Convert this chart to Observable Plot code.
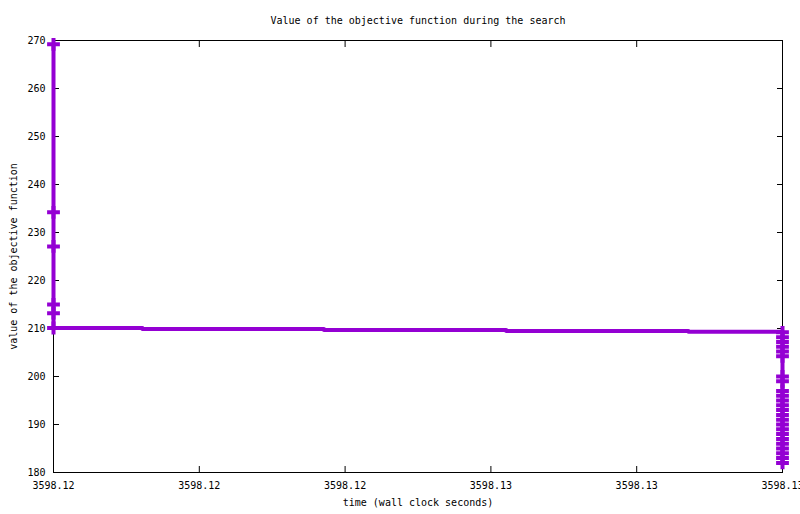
<!DOCTYPE html>
<html>
<head>
<meta charset="utf-8">
<script src="https://cdn.jsdelivr.net/npm/d3@7"></script>
<script src="https://cdn.jsdelivr.net/npm/@observablehq/plot@0.6"></script>
<style>
  html, body { margin: 0; padding: 0; background: #fff; }
  #chart svg { display: block; }
</style>
</head>
<body>
<div id="chart"></div>
<script>
// ---- data ----
const startTime = 3598.119;
const endTime = 3598.129;
// initial descent at the first instant
const spikeValues = [269.2, 234.2, 227.1, 215.0, 213.2, 210.1];
// plateau steps (time, value)
const stepTimes = [3598.12022, 3598.12271, 3598.12521, 3598.12771];
const stepValues = [209.9, 209.7, 209.5, 209.3];
// final descent at the last instant
const endValues = [209.2, 208.2, 207.2, 206.2, 205.2, 204.2, 200.0, 199.0,
  197, 196, 195, 194, 193, 192, 191, 190, 189, 188, 187, 186, 185, 184, 183, 182];

const xTicks = [3598.119, 3598.121, 3598.123, 3598.125, 3598.127, 3598.129];
const xTickLabels = ["3598.12", "3598.12", "3598.12", "3598.13", "3598.13", "3598.13"];
const yTicks = [180, 190, 200, 210, 220, 230, 240, 250, 260, 270];

const titleText = "Value of the objective function during the search";
const xLabel = "time (wall clock seconds)";
const yLabel = "value of the objective function";

// ---- build series ----
const spikePts = spikeValues.map(v => ({t: startTime, v}));
const stepPts = stepTimes.map((t, i) => ({t, v: stepValues[i]}));
const endPts = endValues.map(v => ({t: endTime, v}));
const series = [...spikePts, ...stepPts, ...endPts];
const markers = [...spikePts, ...endPts];

const color = "#9400d3";
const fmtX = (d) => xTickLabels[xTicks.indexOf(d)] ?? "";

const chart = Plot.plot({
  width: 800,
  height: 514,
  marginLeft: 53,
  marginRight: 18,
  marginTop: 40,
  marginBottom: 42,
  style: {fontFamily: "'DejaVu Sans Mono', monospace", fontSize: "10px", background: "#fff", color: "#000"},
  x: {domain: [startTime, endTime]},
  y: {domain: [180, 270]},
  marks: [
    Plot.frame({stroke: "#000", strokeWidth: 1}),
    // inward ticks on all four sides
    Plot.axisY(yTicks, {anchor: "left", tickSize: -6, tickFormat: () => "", label: null}),
    Plot.axisY(yTicks, {anchor: "right", tickSize: -6, tickFormat: () => "", label: null}),
    Plot.axisX(xTicks, {anchor: "bottom", tickSize: -6, tickFormat: () => "", label: null}),
    Plot.axisX(xTicks, {anchor: "top", tickSize: -6, tickFormat: () => "", label: null}),
    // tick labels and axis titles
    Plot.axisY(yTicks, {anchor: "left", tickSize: 0, tickPadding: 8, fill: "#000",
      label: yLabel, labelAnchor: "center", labelArrow: "none", labelOffset: 44}),
    Plot.axisX(xTicks, {anchor: "bottom", tickSize: 0, tickPadding: 9, tickFormat: fmtX, fill: "#000",
      label: xLabel, labelAnchor: "center", labelArrow: "none", labelOffset: 33}),
    Plot.line(series, {x: "t", y: "v", curve: "step-after", stroke: color, strokeWidth: 4}),
    Plot.dot(markers, {x: "t", y: "v", symbol: "plus", r: 4.2, stroke: color, strokeWidth: 4,
      strokeLinecap: "butt", fill: "none"}),
    Plot.text([titleText], {frameAnchor: "top", dy: -24, text: d => d, fill: "#000", fontSize: 10})
  ]
});
document.getElementById("chart").appendChild(chart);
</script>
</body>
</html>
